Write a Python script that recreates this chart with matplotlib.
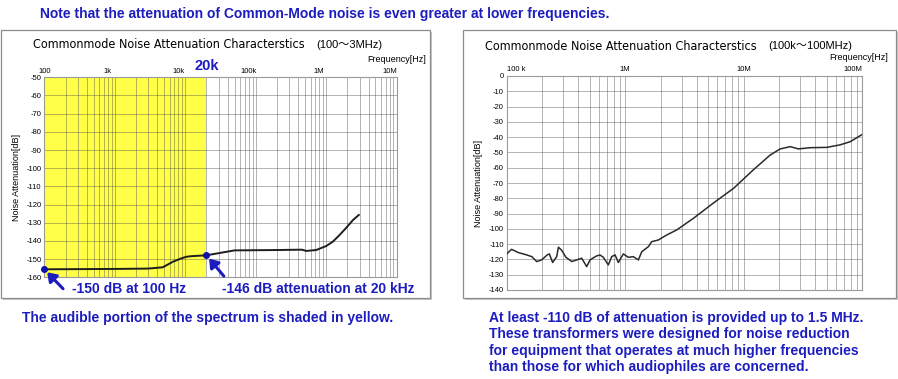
import matplotlib
matplotlib.use('Agg')
import matplotlib.pyplot as plt
from matplotlib.patches import Rectangle
from matplotlib.ticker import LogLocator, NullFormatter
from matplotlib.transforms import ScaledTranslation
import numpy as np

# left chart: 100 Hz .. 10 MHz
left_freq = [100, 1000, 3000, 4800, 6700, 8800, 10400, 12000, 20000, 50000, 200000,
             450000, 520000, 720000, 1000000, 1240000, 1550000, 1900000, 2400000, 2900000]
left_db = [-155.6, -155.4, -155.2, -154.5, -151.4, -149.6, -148.7, -148.4, -147.9, -145.2, -145.0,
           -144.8, -145.5, -145.0, -142.8, -140.4, -136.7, -133.0, -128.5, -125.7]

# right chart: 100 kHz .. 100 MHz
right_freq = [100e3, 110e3, 125e3, 147e3, 163e3, 179e3, 197e3, 220e3, 229e3, 244e3, 264e3,
              273e3, 291e3, 316e3, 354e3, 390e3, 429e3, 473e3, 505e3, 538e3, 574e3, 613e3,
              653e3, 720e3, 769e3, 820e3, 875e3, 964e3, 1.06e6, 1.17e6, 1.29e6, 1.38e6,
              1.57e6, 1.67e6, 1.9e6, 2.24e6, 2.72e6, 3.76e6, 5.5e6, 8.2e6, 12e6, 16.7e6,
              20.3e6, 24.7e6, 28.9e6, 36.3e6, 50e6, 64.6e6, 78.9e6, 100e6]
right_db = [-116.4, -113.4, -115.5, -117.0, -118.2, -121.4, -120.3, -117.0, -116.4, -122.0, -118.2,
            -112.0, -114.0, -118.6, -121.4, -120.3, -119.2, -124.7, -120.3, -119.0, -117.7, -117.1,
            -118.6, -123.6, -118.2, -117.0, -122.0, -116.4, -118.6, -118.2, -120.3, -114.9,
            -111.6, -108.4, -107.3, -104.0, -100.7, -93.1, -83.3, -73.5, -61.5, -51.7,
            -47.7, -46.2, -47.7, -46.9, -46.7, -45.1, -43.0, -38.2]

left_ticks = [100, 1e3, 1e4, 1e5, 1e6, 1e7]
left_tick_labels = ['100', '1k', '10k', '100k', '1M', '10M']
right_ticks = [1e5, 1e6, 1e7, 1e8]
right_tick_labels = ['100 k', '1M', '10M', '100M']
left_yticks = list(range(-50, -161, -10))
right_yticks = list(range(0, -141, -10))
audible_max = 20000
marker_freq = [100, 20000]

W, H = 898, 379
BLUE = '#1c1cbf'
DOT = '#1010a8'
plt.rcParams['font.family'] = ['Liberation Sans', 'DejaVu Sans']
TITLE = dict(family=['DejaVu Sans'], fontstretch='condensed', fontsize=9, va='center')
NOTE = dict(color=BLUE, fontsize=10, fontweight='bold', va='center')

fig = plt.figure(figsize=(W / 100, H / 100), dpi=100)


def px(x, y):
    return x / W, 1 - y / H


def frame(x0, y0, x1, y1):
    # shadow then box, both below the axes
    fig.patches.append(Rectangle(px(x0 + 2, y1 + 2), (x1 - x0) / W, (y1 - y0) / H,
                                 transform=fig.transFigure, facecolor='#c8c8c8',
                                 edgecolor='none', zorder=-2))
    fig.patches.append(Rectangle(px(x0, y1), (x1 - x0) / W, (y1 - y0) / H,
                                 transform=fig.transFigure, facecolor='white',
                                 edgecolor='#8c8c8c', lw=0.9, zorder=-1))


frame(1, 30, 430, 298)
frame(463, 30, 896, 298)


def style(ax, ticks, labels, yticks, xlim, ylim):
    ax.set_xscale('log')
    ax.set_xlim(*xlim)
    ax.set_ylim(*ylim)
    ax.xaxis.set_minor_locator(LogLocator(base=10, subs=range(2, 10), numticks=20))
    ax.xaxis.set_minor_formatter(NullFormatter())
    ax.set_xticks(ticks)
    ax.set_xticklabels(labels)
    ax.set_yticks(yticks)
    ax.set_yticklabels([str(v) for v in yticks])
    ax.xaxis.tick_top()
    ax.tick_params(axis='both', which='both', length=0, labelsize=5.5, pad=2)
    ax.grid(True, which='both', color='#4a4a4a', alpha=0.42, lw=0.7)
    for s in ax.spines.values():
        s.set_color('#9a9a9a')
        s.set_linewidth(0.8)
    ax.set_ylabel('Noise Attenuation[dB]', fontsize=6.5, labelpad=4)


# ---- left chart ----
ax1 = fig.add_axes([44.3 / W, 1 - 277.3 / H, 352.4 / W, 200 / H])
style(ax1, left_ticks, left_tick_labels, left_yticks, (100, 1e7), (-160, -50))
ax1.axvspan(left_freq[0], audible_max, color='#ffff48', zorder=0, lw=0)
ax1.plot(left_freq, left_db, color='#1e1e1e', lw=1.4, zorder=3)
mk_db = np.interp(np.log10(marker_freq), np.log10(left_freq), left_db)
ax1.plot(marker_freq, mk_db, 'o', color=DOT, ms=4, zorder=4, clip_on=False)
for lab in ax1.get_xticklabels()[1:]:
    lab.set_transform(lab.get_transform() + ScaledTranslation(-7 / 100, 0, fig.dpi_scale_trans))
for f, d, off in zip(marker_freq, mk_db, [(13.5, -14), (12.5, -15)]):
    ax1.annotate('', xy=(f, d), xytext=off, textcoords='offset points',
                 arrowprops=dict(arrowstyle='-|>,head_width=0.35,head_length=0.5',
                                 color=BLUE, lw=2.2, shrinkA=0, shrinkB=3),
                 annotation_clip=False)

fig.text(*px(207, 66), '20k', color=BLUE, fontsize=10.5, fontweight='bold', ha='center', va='center')
fig.text(*px(72, 289), '-150 dB at 100 Hz', color=BLUE, fontsize=10, fontweight='bold', va='center')
fig.text(*px(222, 289), '-146 dB attenuation at 20 kHz', color=BLUE, fontsize=10,
         fontweight='bold', va='center')
fig.text(*px(33, 45), 'Commonmode Noise Attenuation Characterstics', **TITLE)
fig.text(*px(316, 45), '(100～3MHz)', family=['Liberation Sans', 'Noto Sans CJK JP'],
         fontsize=8, va='center')
fig.text(*px(426, 60), 'Frequency[Hz]', fontsize=6.5, ha='right', va='center')

# ---- right chart ----
ax2 = fig.add_axes([506.7 / W, 1 - 290 / H, 355.6 / W, 214 / H])
style(ax2, right_ticks, right_tick_labels, right_yticks, (1e5, 1e8), (-140, 0))
ax2.plot(right_freq, right_db, color='#2a2a2a', lw=1.1, zorder=3)
labs = ax2.get_xticklabels()
labs[0].set_ha('left')
labs[-1].set_ha('right')

fig.text(*px(485, 46), 'Commonmode Noise Attenuation Characterstics', **TITLE)
fig.text(*px(768, 46), '(100k～100MHz)', family=['Liberation Sans', 'Noto Sans CJK JP'],
         fontsize=8, va='center')
fig.text(*px(888, 58), 'Frequency[Hz]', fontsize=6.5, ha='right', va='center')

# ---- notes ----
fig.text(*px(40, 14), 'Note that the attenuation of Common-Mode noise is even greater at lower frequencies.',
         **NOTE)
fig.text(*px(22, 318), 'The audible portion of the spectrum is shaded in yellow.', **NOTE)
right_notes = ['At least -110 dB of attenuation is provided up to 1.5 MHz.',
               'These transformers were designed for noise reduction',
               'for equipment that operates at much higher frequencies',
               'than those for which audiophiles are concerned.']
for i, line in enumerate(right_notes):
    fig.text(*px(489, 318 + 16.3 * i), line, **NOTE)

fig.savefig('out.png', dpi=100)
